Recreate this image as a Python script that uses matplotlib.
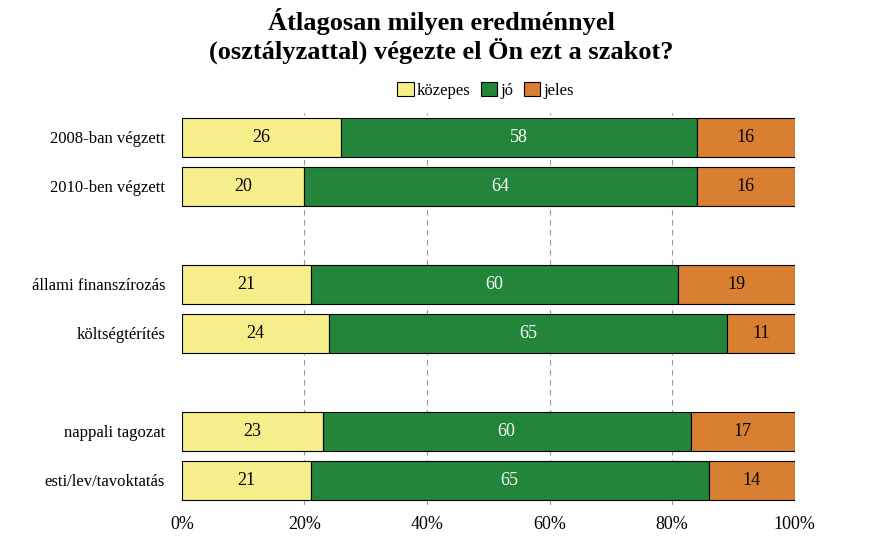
import matplotlib.pyplot as plt
import numpy as np

plt.rcParams["font.family"] = "Liberation Serif"

labels = ["2008-ban végzett", "2010-ben végzett", "állami finanszírozás",
          "költségtérítés", "nappali tagozat", "esti/lev/tavoktatás"]
kozepes = [26, 20, 21, 24, 23, 21]
jo = [58, 64, 60, 65, 60, 65]
jeles = [16, 16, 19, 11, 17, 14]
positions = [0, 1, 3, 4, 6, 7]

series = [("közepes", kozepes, "#f5ee8a", "black"),
          ("jó", jo, "#22853a", "white"),
          ("jeles", jeles, "#d97f32", "black")]

fig = plt.figure(figsize=(8.83, 5.58), dpi=100)
ax = fig.add_axes([0.206, 0.095, 0.694, 0.703])

left = np.zeros(len(labels))
for name, vals, col, tcol in series:
    ax.barh(positions, vals, left=left, height=0.8, color=col,
            edgecolor="black", linewidth=0.8, label=name, zorder=3)
    for p, l, v in zip(positions, left, vals):
        ax.text(l + v / 2, p, str(v), ha="center", va="center",
                color=tcol, fontsize=13, zorder=4)
    left += np.array(vals)

ax.set_xlim(0, 100)
ax.set_ylim(7.5, -0.5)
ax.set_yticks(positions)
ax.set_yticklabels(labels, fontsize=12)
ax.set_xticks(range(0, 101, 20))
ax.set_xticklabels([f"{x}%" for x in range(0, 101, 20)], fontsize=13)
ax.tick_params(axis="y", length=0, pad=12)
ax.tick_params(axis="x", length=0, pad=8)
for x in [20, 40, 60, 80]:
    ax.axvline(x, color="#999999", linestyle=(0, (5, 4)), linewidth=0.8, zorder=1)
for s in ax.spines.values():
    s.set_visible(False)

fig.suptitle("Átlagosan milyen eredménnyel\n(osztályzattal) végezte el Ön ezt a szakot?",
             x=0.5, y=0.985, fontsize=19, fontweight="bold", linespacing=1.1)
fig.legend(loc="center", bbox_to_anchor=(0.55, 0.838), ncol=3, frameon=False,
           fontsize=12, handlelength=1.0, handleheight=0.9, handletextpad=0.2,
           columnspacing=0.6)

fig.savefig("out.png")
